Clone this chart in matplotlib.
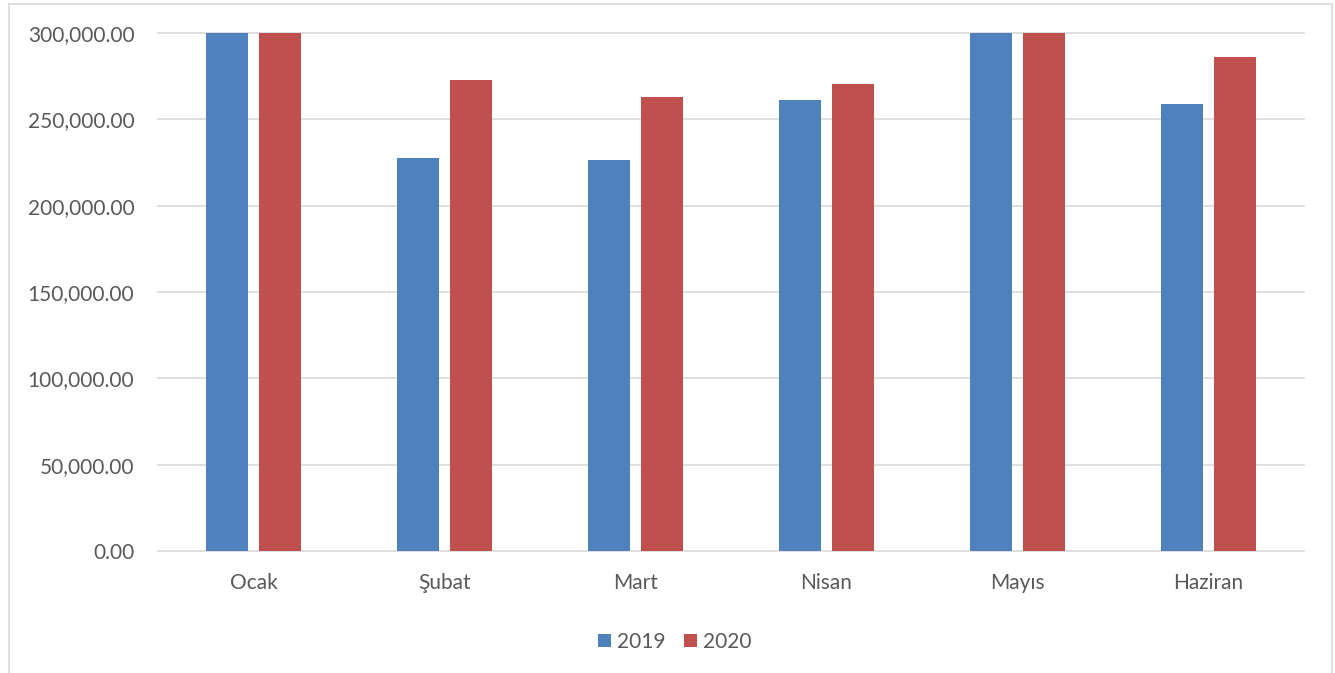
import matplotlib
matplotlib.use("Agg")
import matplotlib.pyplot as plt
import numpy as np
from matplotlib.patches import Rectangle

months = ["Ocak", "Şubat", "Mart", "Nisan", "Mayıs", "Haziran"]
# Ocak and Mayıs run past the 300,000 axis limit in the original (clipped)
y2019 = [320000, 227600, 226400, 261200, 320000, 258900]
y2020 = [320000, 272800, 262900, 270500, 320000, 286100]
yticks = [0, 50000, 100000, 150000, 200000, 250000, 300000]

blue = "#4F81BD"
red = "#C0504D"
txt = "#595959"
grid = "#D9D9D9"

plt.rcParams["font.family"] = ["Lato", "DejaVu Sans"]

fig = plt.figure(figsize=(13.35, 6.73), dpi=100)
ax = fig.add_axes([158/1335, 1-551/673, (1304-158)/1335, (551-33)/673])

x = np.arange(len(months))
w = 0.22
off = 0.141
ax.bar(x - off, y2019, width=w, color=blue, label="2019", zorder=3)
ax.bar(x + off, y2020, width=w, color=red, label="2020", zorder=3)

ax.set_xlim(-0.5, len(months) - 0.5)
ax.set_ylim(0, 300000)
ax.set_yticks(yticks)
ax.set_yticklabels(["{:,.2f}".format(v) for v in yticks])
ax.set_xticks(x)
ax.set_xticklabels(months)
ax.tick_params(axis="both", length=0, labelsize=15, colors=txt)
ax.tick_params(axis="y", pad=17)
ax.tick_params(axis="x", pad=16)

for v in yticks:
    ax.axhline(v, color=grid, lw=1.2, zorder=1, clip_on=False)
for s in ax.spines.values():
    s.set_visible(False)

leg = ax.legend(loc="upper center", bbox_to_anchor=(0.451, -0.12), ncol=2,
                frameon=False, fontsize=15, handlelength=0.6, handleheight=0.6,
                handletextpad=0.3, columnspacing=0.9)
for t in leg.get_texts():
    t.set_color(txt)

fig.patches.append(Rectangle((9/1335, -0.05), (1332-9)/1335, 1.05 - 4.5/673,
                             transform=fig.transFigure, fill=False,
                             edgecolor="#D9D9D9", lw=1.2))

fig.savefig("out.png", dpi=100)
